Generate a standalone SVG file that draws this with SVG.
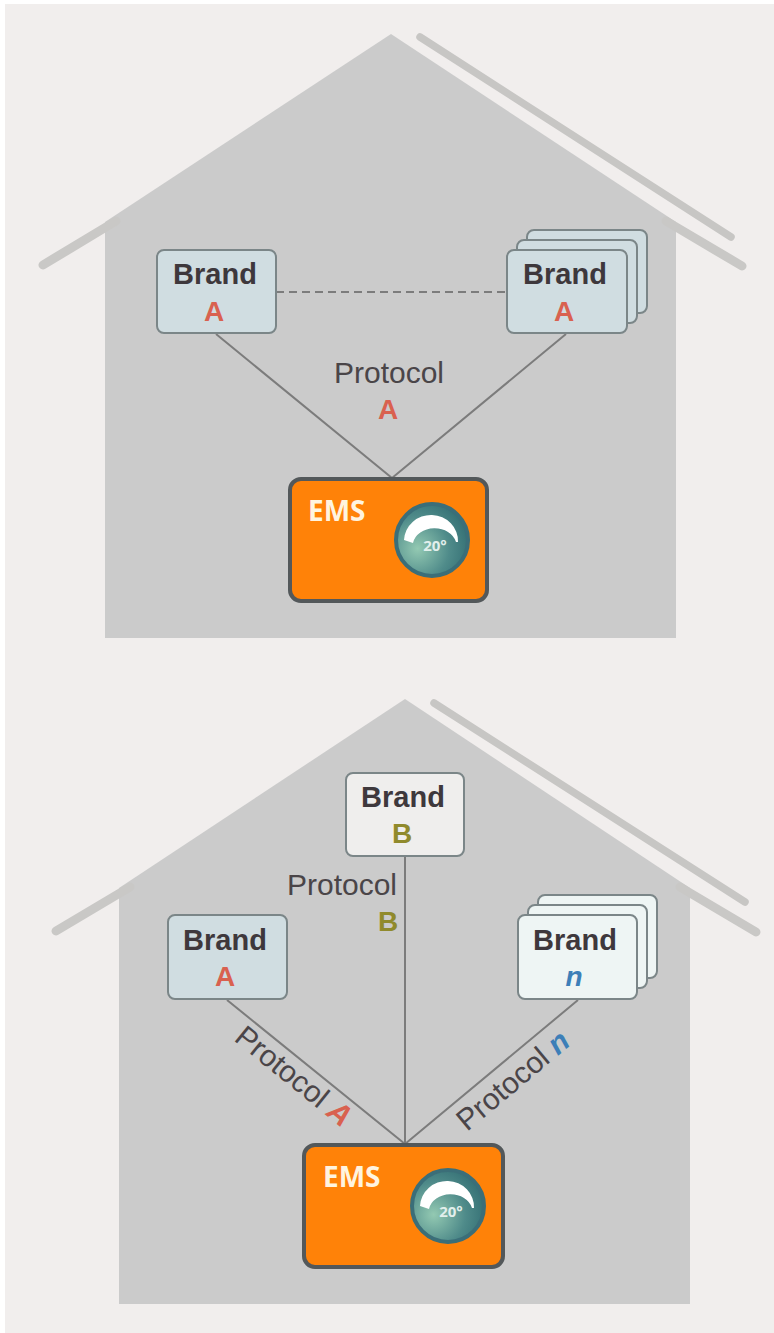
<svg xmlns="http://www.w3.org/2000/svg" width="774" height="1333" viewBox="0 0 774 1333">
<style>
.body{fill:#cbcbcb}
.roof{fill:none;stroke:#c9c8c6;stroke-width:9;stroke-linecap:round}
.roof2{fill:none;stroke:#c7c6c4;stroke-width:7.5;stroke-linecap:round}
.b{fill:#d0dde1;stroke:#7b8688;stroke-width:2}
.n{fill:#eef5f4;stroke:#7b8688;stroke-width:2}
.g{fill:#efeeed;stroke:#7b8688;stroke-width:2}
.t{font-family:"Liberation Sans",Arial,sans-serif;text-anchor:middle}
.br{font-size:29px;font-weight:bold;fill:#3e383c}
.le{font-size:28px;font-weight:bold}
.p{font-family:"Liberation Sans",Arial,sans-serif;font-size:30px;fill:#4a4548}
.pc{text-anchor:middle}
.ems{fill:#ff8208;stroke:#53585a;stroke-width:4}
.emst{font-family:"Open Sans","Liberation Sans",sans-serif;font-size:28px;font-weight:bold;fill:#fff4e0}
.deg{font-family:"Open Sans","Liberation Sans",sans-serif;font-size:15px;font-weight:bold;fill:#e2efec;text-anchor:middle}
.c{fill:none;stroke:#7c7c7c;stroke-width:2}
.arc{fill:#fff}
</style>
<defs>
<radialGradient id="dial" cx="0.3" cy="0.62" r="0.8"><stop offset="0" stop-color="#93c9b2"/><stop offset="0.55" stop-color="#4f8b8a"/><stop offset="1" stop-color="#2f6a70"/></radialGradient>
<path id="dialarc" d="M-28 0A27 26 0 0 1 26 2L24 2A22 18 0 0 0 -19 3Z"/>
</defs>
<rect width="774" height="1333" fill="#fff"/>
<rect x="5" y="4" width="769" height="1329" fill="#f1eeed"/>
<g id="house1">
<path class="body" d="M391 34L676 222V638H105V222Z"/>
<path class="roof" d="M43 265L116 221"/><path class="roof" d="M666 221L742 266"/><path class="roof2" d="M420 37L731 237"/>
</g>
<g id="house2">
<path class="body" d="M405 699L690 888V1304H119V888Z"/>
<path class="roof" d="M56 931L130 887"/><path class="roof" d="M680 887L756 932"/><path class="roof2" d="M434 703L745 902"/>
</g>
<g id="connectors">
<path class="c" d="M216 334L392 478M566 334L392 478"/>
<path class="c" stroke-dasharray="8 5" d="M276 292H507"/>
<path class="c" d="M405 857V1144M227 1000L405 1144M578 1000L405 1144"/>
</g>
<g id="brand-a1"><rect class="b" x="157" y="250" width="119" height="83" rx="7"/><text class="t br" x="215" y="284">Brand</text><text class="t le" x="214" y="321" fill="#d9614f">A</text></g>
<g id="brand-a2"><rect class="b" x="527" y="230" width="120" height="83" rx="7"/><rect class="b" x="517" y="240" width="120" height="83" rx="7"/><rect class="b" x="507" y="250" width="120" height="83" rx="7"/><text class="t br" x="565" y="284">Brand</text><text class="t le" x="564" y="321" fill="#d9614f">A</text></g>
<g id="protocol-a"><text class="p pc" x="389" y="383">Protocol</text><text class="t le" x="388" y="419" fill="#d9614f">A</text></g>
<g id="ems1"><rect class="ems" x="290" y="479" width="197" height="122" rx="11"/><text class="emst" x="308" y="521">EMS</text><circle cx="432" cy="540" r="36" fill="url(#dial)" stroke="#3b6e78" stroke-width="4"/><use href="#dialarc" class="arc" transform="translate(432 540)"/><text class="deg" x="435" y="551">20°</text></g>
<g id="brand-b"><rect class="g" x="346" y="773" width="118" height="83" rx="7"/><text class="t br" x="403" y="807">Brand</text><text class="t le" x="402" y="843" fill="#908a2c">B</text></g>
<g id="protocol-b"><text class="p pc" x="342" y="895">Protocol</text><text class="t le" x="388" y="931" fill="#908a2c">B</text></g>
<g id="brand-a3"><rect class="b" x="168" y="915" width="119" height="84" rx="7"/><text class="t br" x="225" y="950">Brand</text><text class="t le" x="225" y="986" fill="#d9614f">A</text></g>
<g id="brand-n"><rect class="n" x="538" y="895" width="119" height="83" rx="7"/><rect class="n" x="528" y="905" width="119" height="83" rx="7"/><rect class="n" x="518" y="915" width="119" height="84" rx="7"/><text class="t br" x="575" y="950">Brand</text><text class="t le" x="574" y="986" font-style="italic" fill="#3d7fb8">n</text></g>
<g id="protocol-a2"><text class="p" transform="translate(233 1040) rotate(39)">Protocol <tspan font-weight="bold" font-style="italic" fill="#d9614f">A</tspan></text></g>
<g id="protocol-n"><text class="p" transform="translate(467 1132) rotate(-40)">Protocol <tspan font-weight="bold" font-style="italic" fill="#3d7fb8">n</tspan></text></g>
<g id="ems2"><rect class="ems" x="304" y="1145" width="199" height="122" rx="11"/><text class="emst" x="323" y="1187">EMS</text><circle cx="448" cy="1206" r="36" fill="url(#dial)" stroke="#3b6e78" stroke-width="4"/><use href="#dialarc" class="arc" transform="translate(448 1206)"/><text class="deg" x="451" y="1217">20°</text></g>
</svg>
